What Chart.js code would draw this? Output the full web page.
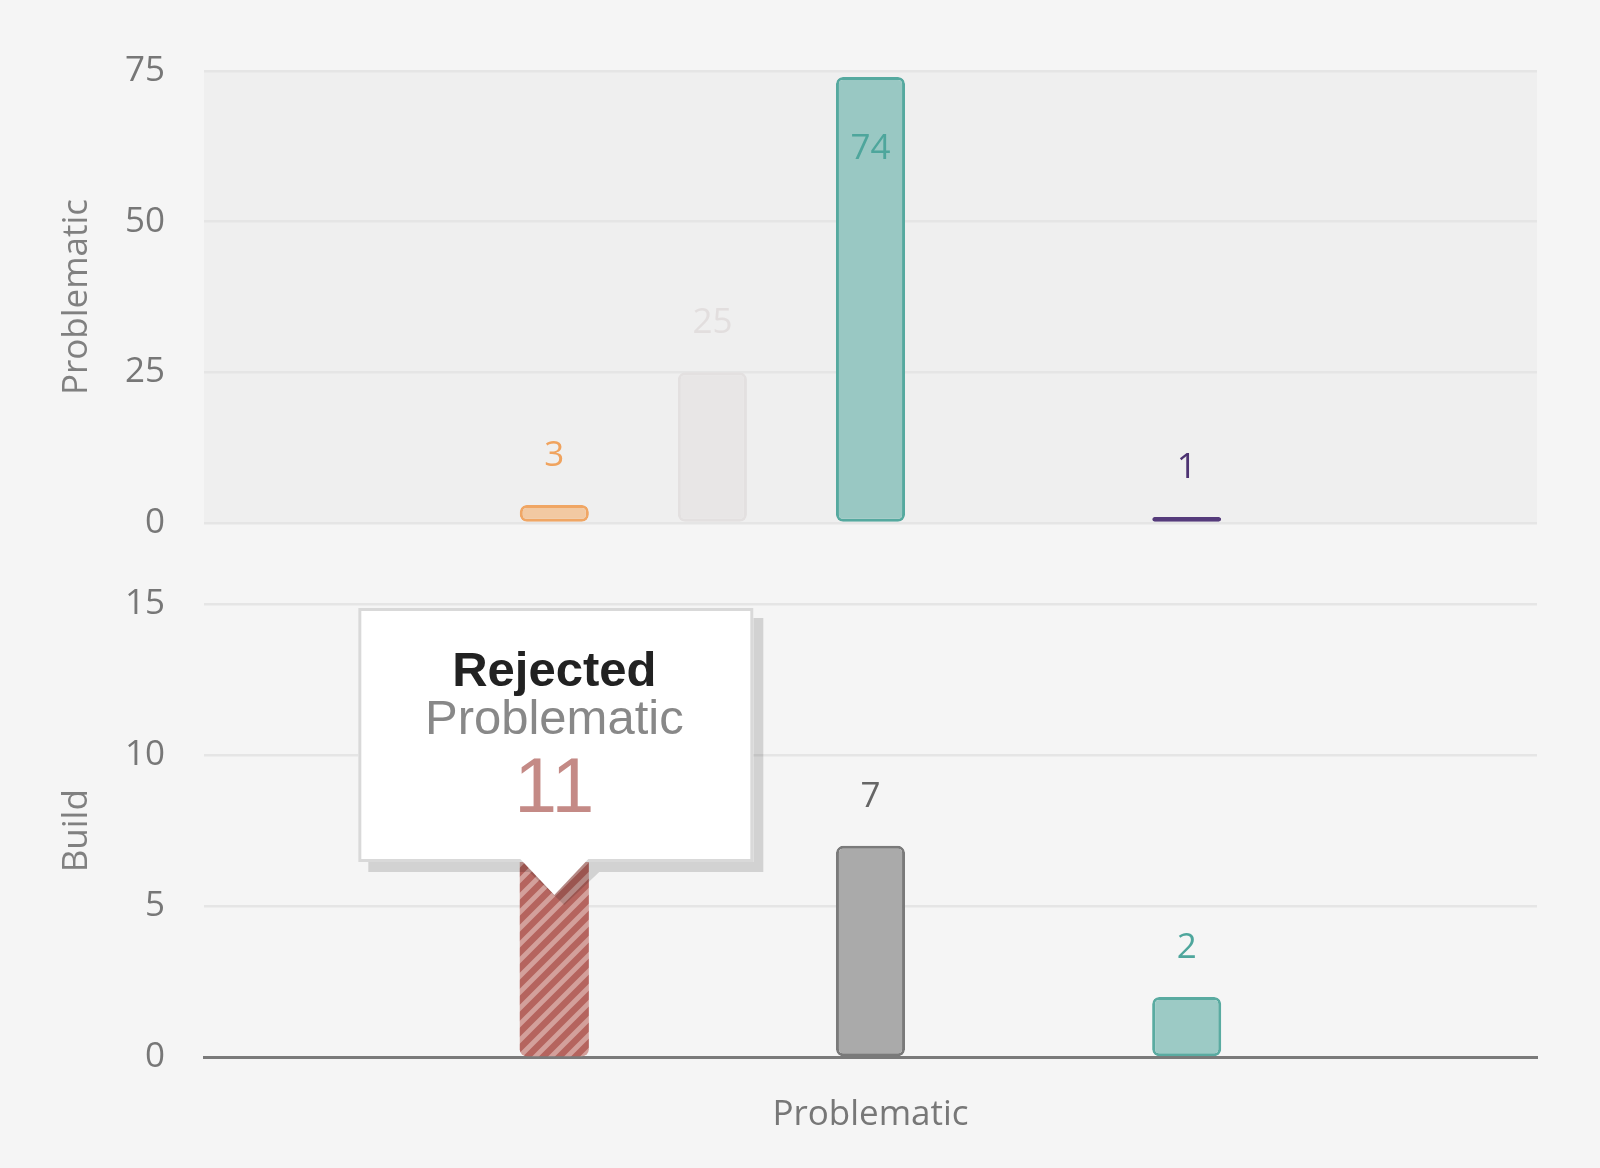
<!DOCTYPE html>
<html>
<head>
<meta charset="utf-8">
<script src="https://cdn.jsdelivr.net/npm/chart.js@4.4.1/dist/chart.umd.min.js"></script>
<style>
  html, body { margin:0; padding:0; background:#f5f5f5; width:1600px; height:1168px; overflow:hidden; }
  .wrap { position:absolute; left:0; width:1600px; }
</style>
</head>
<body>
<div class="wrap" style="top:0;height:560px"><canvas id="topChart"></canvas></div>
<div class="wrap" style="top:560px;height:608px"><canvas id="bottomChart"></canvas></div>
<script>
// ---------- data ----------
const categories = ['Problematic'];
const panelTitles = ['Problematic', 'Build'];
const problematicSeries = ['Series 1', 'Series 2', 'Series 3', 'Series 4', 'Series 5'];
const problematicValues = [3, 25, 74, null, 1];
const buildSeries = ['Rejected', 'Series 2', 'Series 3', 'Series 4', 'Series 5'];
const buildValues = [11, null, 7, null, 2];
const problematicTicks = [0, 25, 50, 75];
const buildTicks = [0, 5, 10, 15];
const tooltipSeriesIndex = 0; // highlighted bar in the Build panel

// ---------- styles ----------
const FONT = 'Open Sans';
const FSIZE = 35;
const topFill   = ['#f2c9a2', '#e8e6e6', '#99c8c3', '#cccccc', '#553b7b'];
const topBorder = ['#f0a664', '#e3e0e0', '#55a99f', '#cccccc', '#553b7b'];
const topLabel  = ['#f0a35e', '#e2dede', '#4ea69c', '#999999', '#4d3372'];
const botBorder = [null, '#cccccc', '#7a7a7a', '#cccccc', '#5aaba1'];
const botFillSolid = [null, '#cccccc', '#aaaaaa', '#cccccc', '#9ccac5'];
const botLabel  = ['#c48a86', '#999999', '#666666', '#999999', '#4ea69c'];

function makeStripe() {
  const period = 16, s = period * 4, c = document.createElement('canvas');
  c.width = s; c.height = s;
  const g = c.getContext('2d');
  g.fillStyle = '#d3a09b'; g.fillRect(0, 0, s, s);
  g.strokeStyle = '#b5645e'; g.lineWidth = 6.5; g.lineCap = 'square';
  g.beginPath();
  for (let k = -5; k <= 5; k++) {
    const o = k * period;
    g.moveTo(o - 4, s + 4); g.lineTo(o + s + 4, -4);
  }
  g.stroke();
  return document.createElement('canvas').getContext('2d').createPattern(c, 'repeat');
}

const plotBg = {
  id: 'plotBg',
  beforeDraw(chart, args, opts) {
    if (!opts || !opts.color) return;
    const a = chart.chartArea, ctx = chart.ctx;
    ctx.save(); ctx.fillStyle = opts.color;
    ctx.fillRect(a.left, a.top, a.right - a.left, a.bottom - a.top);
    ctx.restore();
  }
};

const valueLabels = {
  id: 'valueLabels',
  afterDatasetsDraw(chart) {
    const ctx = chart.ctx, area = chart.chartArea;
    ctx.save();
    ctx.font = FSIZE + 'px "' + FONT + '"';
    ctx.textAlign = 'center'; ctx.textBaseline = 'middle';
    chart.data.datasets.forEach((ds, i) => {
      const meta = chart.getDatasetMeta(i);
      meta.data.forEach((el, j) => {
        const v = ds.data[j];
        if (v === null || v === undefined) return;
        let y = el.y - 49;
        if (y - 17 < area.top) y = el.y + 72;
        ctx.fillStyle = ds.labelColor;
        ctx.fillText(String(v), el.x, y);
      });
    });
    ctx.restore();
  }
};

const tipBox = {
  id: 'tipBox',
  afterDraw(chart, args, opts) {
    if (!opts || opts.index === undefined) return;
    const ds = chart.data.datasets[opts.index];
    const el = chart.getDatasetMeta(opts.index).data[0];
    if (!el) return;
    const a = chart.chartArea, ctx = chart.ctx;
    const cx = el.x;
    const L = cx - 196, R = cx + 199, T = a.top + 4, B = a.top + 258, tipY = a.top + 291, hw = 35;
    const shape = (dx, dy) => {
      ctx.beginPath();
      ctx.moveTo(L + dx, T + dy); ctx.lineTo(R + dx, T + dy); ctx.lineTo(R + dx, B + dy);
      ctx.lineTo(cx + hw + dx, B + dy); ctx.lineTo(cx + dx, tipY + dy); ctx.lineTo(cx - hw + dx, B + dy);
      ctx.lineTo(L + dx, B + dy); ctx.closePath();
    };
    ctx.save();
    ctx.fillStyle = 'rgba(0,0,0,0.14)';
    shape(10, 10); ctx.fill();
    ctx.fillStyle = '#ffffff';
    ctx.fillRect(L, T, R - L, B - T);
    ctx.strokeStyle = '#d9d9d9'; ctx.lineWidth = 3;
    ctx.strokeRect(L + 1.5, T + 1.5, R - L - 3, B - T - 3);
    ctx.beginPath();
    ctx.moveTo(cx - hw, B - 4); ctx.lineTo(cx + hw, B - 4); ctx.lineTo(cx, tipY); ctx.closePath();
    ctx.fill();
    ctx.textAlign = 'center'; ctx.textBaseline = 'alphabetic';
    ctx.fillStyle = '#222222';
    ctx.font = 'bold 49px "Liberation Sans", Arial, sans-serif';
    ctx.fillText(ds.label, cx, a.top + 82);
    ctx.fillStyle = '#888888';
    ctx.font = '49px "Liberation Sans", Arial, sans-serif';
    ctx.fillText(chart.data.labels[0], cx, a.top + 130);
    ctx.fillStyle = ds.labelColor;
    ctx.font = '77px "Liberation Sans", Arial, sans-serif';
    ctx.fillText(String(ds.data[0]), cx, a.top + 208);
    ctx.restore();
  }
};

function yScale(title, ticks) {
  return {
    position: 'left',
    min: ticks[0], max: ticks[ticks.length - 1],
    ticks: { stepSize: ticks[1] - ticks[0], color: '#777777', font: { size: FSIZE, family: FONT }, padding: 0 },
    grid: { color: '#e5e5e5', lineWidth: 2.5, drawTicks: true, tickLength: 39, tickColor: 'rgba(0,0,0,0)' },
    border: { display: false },
    title: { display: true, text: title, color: '#808080', font: { size: FSIZE, family: FONT }, padding: { top: 56, bottom: 0 } },
    afterFit(s) { s.width = 204; }
  };
}

const barCommon = { categoryPercentage: 0.593, barPercentage: 0.437, borderRadius: 7, borderSkipped: false, borderWidth: 3 };

function build() {
  Chart.defaults.font.family = FONT;
  Chart.defaults.animation = false;
  const stripe = makeStripe();

  new Chart(document.getElementById('topChart'), {
    type: 'bar',
    data: {
      labels: categories,
      datasets: problematicValues.map((v, i) => Object.assign({
        label: problematicSeries[i], data: [v],
        backgroundColor: topFill[i], borderColor: topBorder[i], labelColor: topLabel[i]
      }, barCommon))
    },
    options: {
      responsive: true, maintainAspectRatio: false,
      layout: { padding: { top: 71, right: 63, bottom: 37, left: 0 } },
      plugins: { legend: { display: false }, tooltip: { enabled: false }, plotBg: { color: '#efefef' } },
      scales: {
        x: { display: false, grid: { display: false } },
        y: yScale(panelTitles[0], problematicTicks)
      }
    },
    plugins: [plotBg, valueLabels]
  });

  new Chart(document.getElementById('bottomChart'), {
    type: 'bar',
    data: {
      labels: categories,
      datasets: buildValues.map((v, i) => Object.assign({
        label: buildSeries[i], data: [v],
        backgroundColor: i === 0 ? stripe : botFillSolid[i],
        borderColor: botBorder[i] || 'rgba(0,0,0,0)', labelColor: botLabel[i]
      }, barCommon, i === 0 ? { borderWidth: 0 } : {}))
    },
    options: {
      responsive: true, maintainAspectRatio: false,
      layout: { padding: { top: 44, right: 63, bottom: 30.5, left: 0 } },
      plugins: { legend: { display: false }, tooltip: { enabled: false }, tipBox: { index: tooltipSeriesIndex } },
      scales: {
        x: {
          grid: { display: false, drawTicks: false },
          border: { display: true, color: '#7a7a7a', width: 3 },
          ticks: { color: '#777777', font: { size: FSIZE, family: FONT }, padding: 37 },
          afterFit(s) { s.height = 80; }
        },
        y: yScale(panelTitles[1], buildTicks)
      }
    },
    plugins: [valueLabels, tipBox]
  });
}

Promise.all([
  document.fonts.load(FSIZE + 'px "' + FONT + '"'),
  document.fonts.load('bold 49px "Liberation Sans"'),
  document.fonts.load('49px "Liberation Sans"')
]).then(build, build);
</script>
</body>
</html>
